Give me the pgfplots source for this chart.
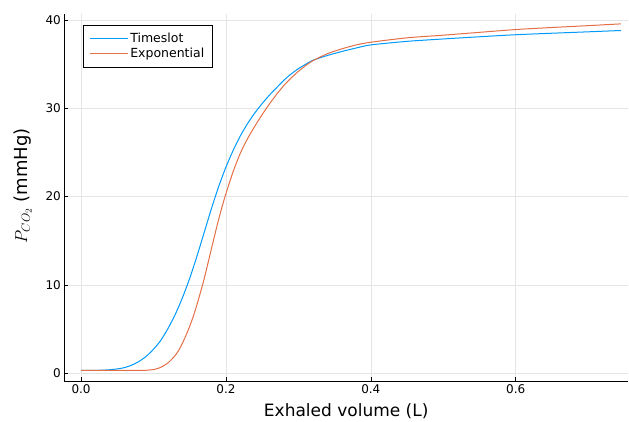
\documentclass[border=0pt]{standalone}
\usepackage{pgfplots}
\pgfplotsset{compat=1.18}
\usepackage{fontspec}
\setmainfont{DejaVu Sans}
\definecolor{jblue}{RGB}{0,154,250}
\definecolor{jorange}{RGB}{227,111,71}
\begin{document}
\begin{tikzpicture}
\begin{axis}[
 scale only axis, width=563.6pt, height=367pt,
 xmin=-0.023, xmax=0.755, ymin=-0.9, ymax=40.7,
 axis lines*=left, axis line style={black, line width=0.8pt},
 tick align=inside, major tick length=4pt, tick style={black, line width=0.6pt},
 xtick={0,0.2,0.4,0.6}, ytick={0,10,20,30,40},
 xticklabel style={/pgf/number format/fixed, /pgf/number format/precision=1, /pgf/number format/fixed zerofill},
 /pgf/number format/assume math mode=true,
 ticklabel style={font=\fontsize{12}{14}\selectfont},
 grid=major, major grid style={black!10, line width=0.6pt},
 xlabel={Exhaled volume (L)}, ylabel={$P_{CO_2}$ (mmHg)},
 xlabel style={font=\fontsize{17}{20}\selectfont, at={(axis description cs:0.5,-0.097)}, anchor=base},
 ylabel style={font=\fontsize{18}{20}\selectfont, at={(axis description cs:-0.066,0.532)}, anchor=base},
 legend style={at={(0.033,0.970)}, anchor=north west, font=\fontsize{12.5}{13}\selectfont, draw=black, line width=0.6pt, inner xsep=6pt, inner ysep=6pt, row sep=0pt},
 legend cell align=left,
 legend image code/.code={\draw[#1] (0pt,0pt) -- (38pt,0pt);},
]
\addplot[jblue, line width=1pt, smooth, tension=0.4] coordinates {
(0.000,0.30) (0.020,0.31) (0.030,0.33) (0.040,0.38) (0.050,0.47) (0.060,0.62)
(0.070,0.90) (0.080,1.32) (0.090,1.90) (0.100,2.70) (0.110,3.70) (0.120,5.05)
(0.130,6.65) (0.140,8.55) (0.150,10.75) (0.160,13.25) (0.170,15.95) (0.180,18.65)
(0.190,21.15) (0.200,23.35) (0.210,25.25) (0.220,26.90) (0.230,28.30) (0.240,29.50)
(0.250,30.55) (0.260,31.50) (0.270,32.35) (0.280,33.20) (0.290,33.90) (0.300,34.50)
(0.310,35.00) (0.320,35.45) (0.340,36.00) (0.360,36.45) (0.380,36.85) (0.400,37.20)
(0.450,37.60) (0.500,37.87) (0.550,38.12) (0.600,38.35) (0.650,38.52) (0.700,38.68) (0.745,38.83)
};
\addlegendentry{Timeslot}
\addplot[jorange, line width=1pt, smooth, tension=0.4] coordinates {
(0.000,0.30) (0.080,0.30) (0.090,0.32) (0.100,0.40) (0.105,0.50) (0.110,0.65)
(0.115,0.88) (0.120,1.15) (0.125,1.55) (0.130,2.00) (0.135,2.60) (0.140,3.40)
(0.145,4.30) (0.150,5.30) (0.155,6.45) (0.160,7.75) (0.165,9.20) (0.170,10.70)
(0.175,12.40) (0.180,14.10) (0.185,15.80) (0.190,17.45) (0.195,18.95) (0.200,20.35)
(0.210,22.85) (0.220,24.95) (0.230,26.60) (0.240,28.00) (0.250,29.30) (0.260,30.50)
(0.270,31.60) (0.280,32.60) (0.290,33.45) (0.300,34.20) (0.310,34.85) (0.320,35.40)
(0.340,36.20) (0.360,36.75) (0.380,37.20) (0.400,37.50) (0.450,38.00) (0.500,38.30)
(0.550,38.62) (0.600,38.94) (0.650,39.17) (0.700,39.38) (0.745,39.58)
};
\addlegendentry{Exponential}
\end{axis}
\pgfresetboundingbox
\useasboundingbox (current axis.south west) ++(-64.4pt,-40pt) rectangle ++(629pt,421pt);
\end{tikzpicture}
\end{document}
